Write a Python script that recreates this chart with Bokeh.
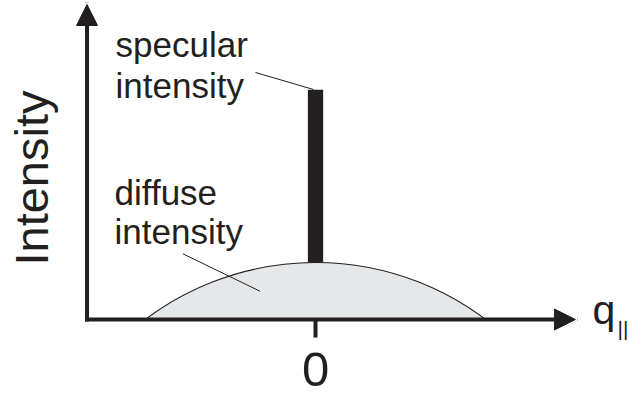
import numpy as np
from bokeh.plotting import figure
from bokeh.models import Range1d, Arrow, NormalHead
from bokeh.core.properties import value
from bokeh.embed import file_html
from bokeh.resources import INLINE

INK = "#231f20"
GREY = "#e6e7e8"
FONT = value("Liberation Sans")

# Scattering profile in arbitrary units (q along x, intensity along y)
q_center = [0.0]
diffuse_peak = [1.0]
diffuse_halfwidth = [1.0]
diffuse_cap_q = 1.66          # semi-axis of the elliptic cap along q (in half-widths)
specular_peak = [4.03]
specular_width = [0.09]

tick_values = [0.0]
tick_labels = ["0"]

# Visible window of the schematic
X_LO, X_HI = -1.853, 1.847
Y_LO, Y_HI = -1.368, 5.596
PX_Q = 629 / (X_HI - X_LO)    # pixels per q unit
PX_I = 397 / (Y_HI - Y_LO)    # pixels per intensity unit
AXIS_Q = -1.344               # position of the intensity axis
Y_TIP = 5.526                 # tip of the intensity arrow
X_TIP = 1.529                 # tip of the q arrow
BASE_SHIFT = 0.37             # baseline correction of the svg text, in em


def lift(size_px):
    """Vertical baseline correction, in intensity units, for a font size."""
    return BASE_SHIFT * size_px / PX_I


p = figure(width=629, height=397, output_backend="svg", toolbar_location=None,
           x_range=Range1d(X_LO, X_HI), y_range=Range1d(Y_LO, Y_HI),
           x_axis_type=None, y_axis_type=None, min_border=0)
p.grid.visible = False
p.outline_line_color = None
p.background_fill_color = "white"
p.border_fill_color = "white"

# Diffuse part: elliptic cap through (±halfwidth, 0) and (0, peak)
a = diffuse_cap_q * diffuse_halfwidth[0]
ratio = np.sqrt(1.0 - (diffuse_halfwidth[0] / a) ** 2)
b = diffuse_peak[0] / (1.0 - ratio)
c = diffuse_peak[0] - b
p.ellipse(x=q_center, y=[c], width=[2 * a], height=[2 * b],
          fill_color=GREY, line_color=INK, line_width=1.1)
# keep only the part above the baseline
p.quad(left=[X_LO], right=[X_HI], bottom=[Y_LO], top=[0.0],
       fill_color="white", line_color=None)

# Specular rod sitting on top of the diffuse cap
p.vbar(x=q_center, width=specular_width, bottom=diffuse_peak, top=specular_peak,
       fill_color=INK, line_color=None)

# Axes with arrow heads
for xs, ys, xe, ye in [(AXIS_Q, 0.0, AXIS_Q, Y_TIP), (AXIS_Q, 0.0, X_TIP, 0.0)]:
    p.add_layout(Arrow(end=NormalHead(size=21, fill_color=INK, line_color=INK, line_width=1),
                       x_start=xs, y_start=ys, x_end=xe, y_end=ye,
                       line_color=INK, line_width=4, line_cap="square"))

# Tick and tick label at q = 0
p.segment(x0=tick_values, y0=[0.0] * len(tick_values), x1=tick_values,
          y1=[-0.316] * len(tick_values), line_color=INK, line_width=4)
p.text(x=tick_values, y=[-1.193 + lift(49)] * len(tick_values), text=tick_labels,
       text_font=FONT, text_font_size="49px", text_color=INK,
       text_align="center", text_baseline="alphabetic")

# Axis titles
p.text(x=[-1.571 - BASE_SHIFT * 47 / PX_Q], y=[2.482], text=["Intensity"], angle=np.pi / 2,
       text_font=FONT, text_font_size="47px", text_color=INK,
       text_align="center", text_baseline="alphabetic")
p.text(x=[1.629], y=[-0.105 + lift(41)], text=["q"], text_font=FONT, text_font_size="41px",
       text_color=INK, text_align="left", text_baseline="alphabetic")
p.text(x=[1.776], y=[-0.298 + lift(21)], text=["||"], text_font=FONT, text_font_size="21px",
       text_color=INK, text_align="left", text_baseline="alphabetic")

# Annotations with leader lines
p.text(x=[-1.176, -1.176], y=[4.596 + lift(35), 3.877 + lift(35)], text=["specular", "intensity"],
       text_font=FONT, text_font_size="35px", text_color=INK,
       text_align="left", text_baseline="alphabetic")
p.text(x=[-1.182, -1.182], y=[2.0 + lift(35), 1.316 + lift(35)], text=["diffuse", "intensity"],
       text_font=FONT, text_font_size="35px", text_color=INK,
       text_align="left", text_baseline="alphabetic")
p.segment(x0=[-0.353, -0.780], y0=[4.333, 1.153], x1=[-0.012, -0.327], y1=[4.035, 0.497],
          line_color=INK, line_width=1)

open("out.html", "w").write(file_html(p, INLINE))
